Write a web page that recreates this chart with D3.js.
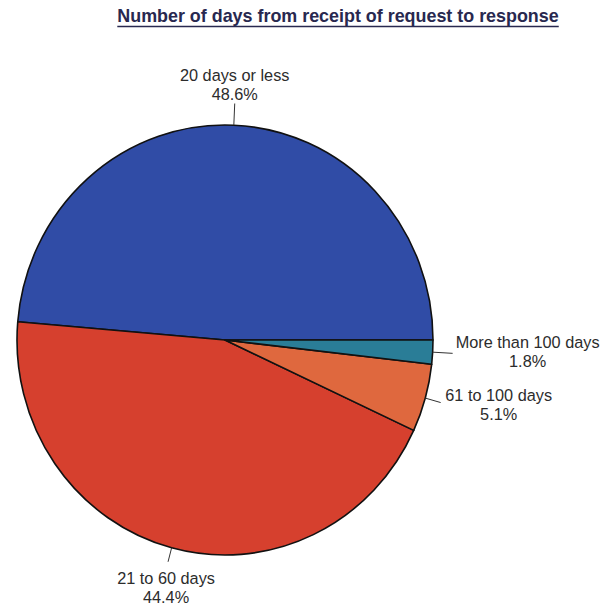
<!DOCTYPE html>
<html>
<head>
<meta charset="utf-8">
<script src="https://cdn.jsdelivr.net/npm/d3@7"></script>
<style>
  html, body { margin: 0; padding: 0; background: #fff; }
  svg { display: block; }
</style>
</head>
<body>
<svg id="chart" width="603" height="609"></svg>
<script>
// Response-time categories and their shares (%)
const categories = ["20 days or less", "21 to 60 days", "61 to 100 days", "More than 100 days"];
const shares = [48.6, 44.4, 5.1, 1.8];
const shareLabels = ["48.6%", "44.4%", "5.1%", "1.8%"];
const colors = ["#304ca6", "#d6402e", "#df683e", "#2a7d97"];

const title = "Number of days from receipt of request to response";

const svg = d3.select("#chart");

// Title, bold and underlined
const titleText = svg.append("text")
  .attr("x", 338).attr("y", 22)
  .attr("text-anchor", "middle")
  .attr("font-family", "Liberation Sans, Arial, sans-serif")
  .attr("font-weight", "bold")
  .attr("font-size", 17.9)
  .attr("fill", "#28284f")
  .text(title);
const tb = titleText.node().getBBox();
svg.append("line")
  .attr("x1", tb.x).attr("x2", tb.x + tb.width)
  .attr("y1", 26.5).attr("y2", 26.5)
  .attr("stroke", "#28284f").attr("stroke-width", 1.6);

// Pie geometry: slightly taller than wide
const cx = 225, cy = 340, rx = 208, ry = 215;
const R = rx;
const sy = ry / rx;

const data = categories.map((c, i) => ({ name: c, value: shares[i], label: shareLabels[i], color: colors[i] }));

// Start at 3 o'clock and run counter-clockwise
const pie = d3.pie()
  .value(d => d.value)
  .sort(null)
  .startAngle(Math.PI / 2)
  .endAngle(Math.PI / 2 - 2 * Math.PI);

const arcs = pie(data);
const arc = d3.arc().innerRadius(0).outerRadius(R);

const g = svg.append("g")
  .attr("transform", `translate(${cx},${cy}) scale(1,${sy})`);

g.selectAll("path.slice")
  .data(arcs)
  .join("path")
  .attr("class", "slice")
  .attr("d", arc)
  .attr("fill", d => d.data.color)
  .attr("stroke", "#111")
  .attr("stroke-width", 1.6)
  .attr("stroke-linejoin", "round")
  .attr("vector-effect", "non-scaling-stroke");

// Leader lines and labels
const font = "Liberation Sans, Arial, sans-serif";
function pointAt(angle, r) {
  return [cx + Math.sin(angle) * r, cy - Math.cos(angle) * r * sy];
}

arcs.forEach((a, i) => {
  const mid = (a.startAngle + a.endAngle) / 2;
  const p0 = pointAt(mid, R);
  const p1 = pointAt(mid, R + (i === 0 ? 21 : i === 1 ? 14 : i === 2 ? 16 : 20));
  svg.append("line")
    .attr("x1", p0[0]).attr("y1", p0[1])
    .attr("x2", p1[0]).attr("y2", p1[1])
    .attr("stroke", "#333").attr("stroke-width", 1);

  let tx, ty1;
  if (i === 0) { tx = p1[0]; ty1 = p1[1] - 23; }
  else if (i === 1) { tx = p1[0] - 2; ty1 = p1[1] + 22; }
  else if (i === 2) { tx = p1[0] + 58; ty1 = p1[1] - 2; }
  else { tx = p1[0] + 75; ty1 = p1[1] - 5; }

  const t = svg.append("text")
    .attr("text-anchor", "middle")
    .attr("font-family", font)
    .attr("font-size", 16.3)
    .attr("fill", "#2c2c2c");
  t.append("tspan").attr("x", tx).attr("y", ty1).text(a.data.name);
  t.append("tspan").attr("x", tx).attr("y", ty1 + 19).text(a.data.label);
});
</script>
</body>
</html>
